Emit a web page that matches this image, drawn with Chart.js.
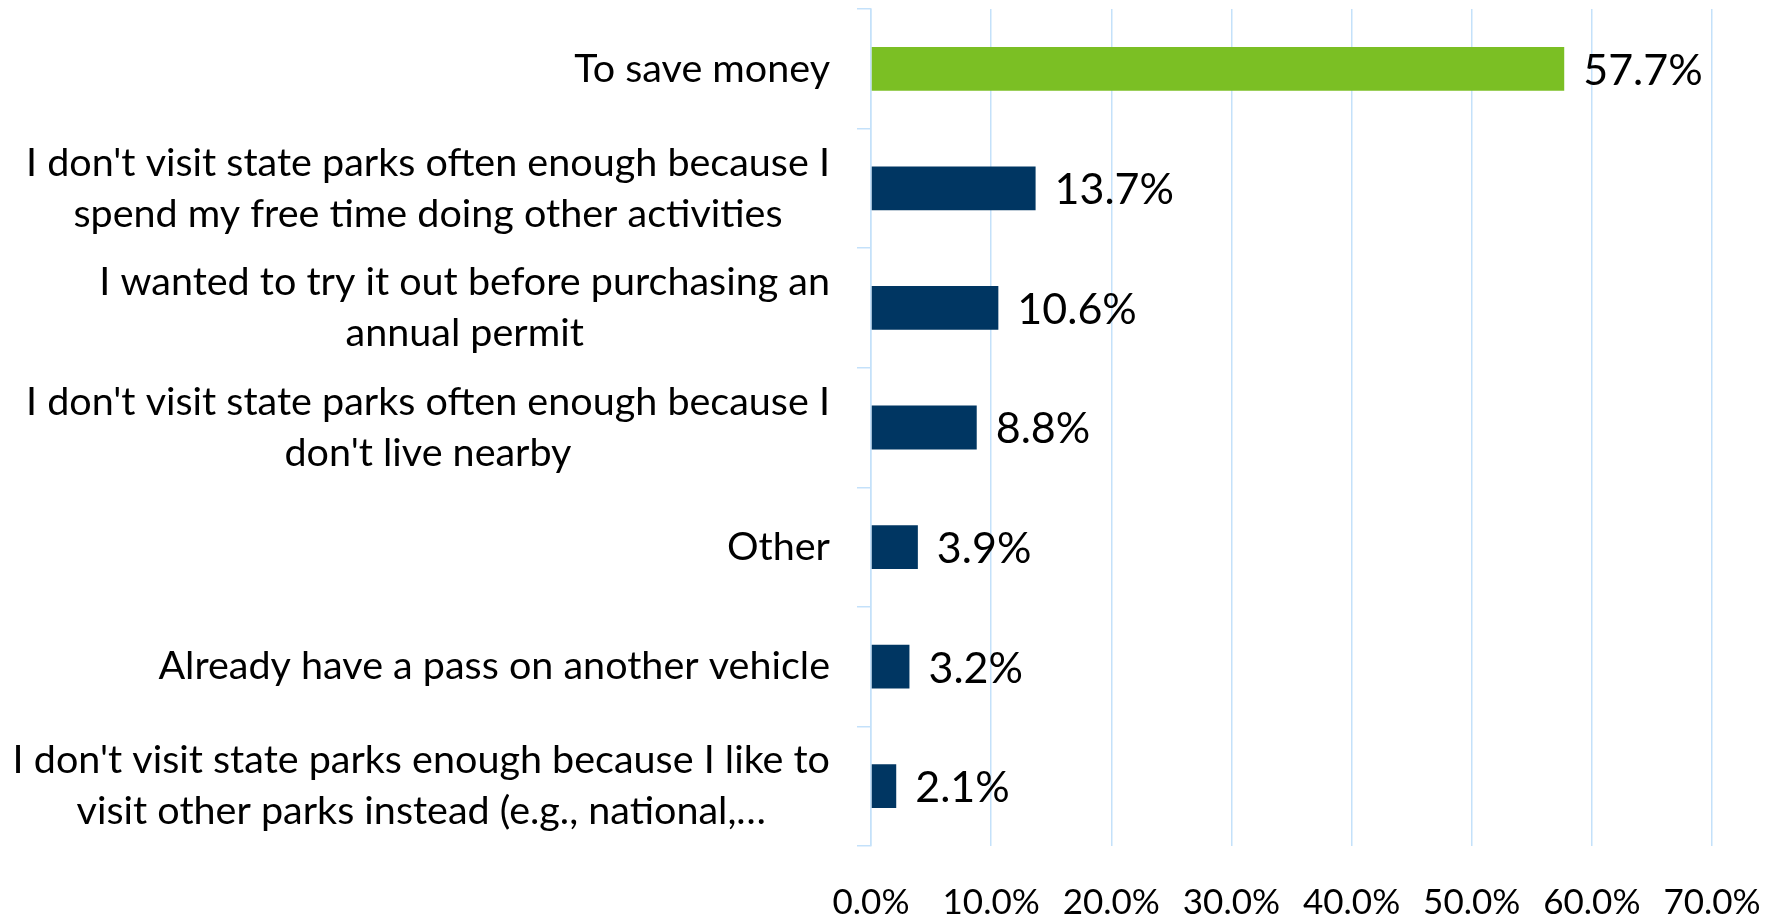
<!DOCTYPE html>
<html>
<head>
<meta charset="utf-8">
<script src="https://cdn.jsdelivr.net/npm/chart.js@4/dist/chart.umd.min.js"></script>
<style>
html,body{margin:0;padding:0;background:#fff;}
#wrap{width:1783px;height:918px;position:relative;}
</style>
</head>
<body>
<div id="wrap"><canvas id="c" width="1783" height="918"></canvas></div>
<script>
const categories = [
  ["To save money"],
  ["I don't visit state parks often enough because I", "spend my free time doing other activities"],
  ["I wanted to try it out before purchasing an", "annual permit"],
  ["I don't visit state parks often enough because I", "don't live nearby"],
  ["Other"],
  ["Already have a pass on another vehicle"],
  ["I don't visit state parks enough because I like to", "visit other parks instead (e.g., national,\u2026"]
];
const values = [57.7, 13.7, 10.6, 8.8, 3.9, 3.2, 2.1];
const barColors = ["#7BBF24", "#003662", "#003662", "#003662", "#003662", "#003662", "#003662"];
const xTicks = [0, 10, 20, 30, 40, 50, 60, 70];

const FONT = "Lato, 'DejaVu Sans', sans-serif";
const lineBlue = "#c4e1fa";
const CAT_FONT_SIZE = 39.5;
const CAT_LINE_H = 51;
const TICK_LEN = 14;
const TICK_PAD = 27;

// Category labels: block right-aligned to the axis, lines centred within the block (as in the original)
const categoryLabelPlugin = {
  id: 'categoryLabels',
  afterDraw(chart) {
    const scale = chart.scales.y;
    const ctx = chart.ctx;
    ctx.save();
    ctx.font = CAT_FONT_SIZE + "px " + FONT;
    ctx.fillStyle = "#000";
    ctx.textAlign = "center";
    ctx.textBaseline = "middle";
    const rightEdge = scale.right - TICK_LEN - TICK_PAD;
    categories.forEach((lines, i) => {
      const yc = scale.getPixelForTick(i);
      const w = Math.max(...lines.map(l => ctx.measureText(l).width));
      const cx = rightEdge - w / 2;
      const y0 = yc - (lines.length - 1) * CAT_LINE_H / 2;
      lines.forEach((l, j) => ctx.fillText(l, cx, y0 + j * CAT_LINE_H));
    });
    ctx.restore();
  }
};

const dataLabelPlugin = {
  id: 'dataLabels',
  afterDatasetsDraw(chart) {
    const ctx = chart.ctx;
    const meta = chart.getDatasetMeta(0);
    ctx.save();
    ctx.font = "43px " + FONT;
    ctx.fillStyle = "#000";
    ctx.textAlign = "left";
    ctx.textBaseline = "middle";
    meta.data.forEach((bar, i) => {
      ctx.fillText(values[i].toFixed(1) + "%", bar.x + 19, bar.y + 2);
    });
    ctx.restore();
  }
};

new Chart(document.getElementById('c'), {
  type: 'bar',
  data: {
    labels: categories,
    datasets: [{
      data: values,
      backgroundColor: barColors,
      borderWidth: 0,
      barPercentage: 0.366,
      categoryPercentage: 1.0
    }]
  },
  options: {
    indexAxis: 'y',
    responsive: false,
    animation: false,
    devicePixelRatio: 1,
    layout: { padding: { top: 9, right: 71, left: 0, bottom: 0 } },
    plugins: { legend: { display: false }, tooltip: { enabled: false } },
    scales: {
      x: {
        min: 0, max: 70,
        afterBuildTicks(scale) { scale.ticks = xTicks.map(v => ({ value: v })); },
        afterFit(scale) { scale.height = 72; scale.paddingLeft = 0; scale.paddingRight = 0; },
        grid: { color: lineBlue, lineWidth: 1.5, drawTicks: false },
        border: { display: false },
        ticks: {
          padding: 36,
          color: "#000",
          font: { family: FONT, size: 35 },
          callback: v => Number(v).toFixed(1) + "%",
          maxRotation: 0, autoSkip: false
        }
      },
      y: {
        afterFit(scale) { scale.width = 871; scale.paddingTop = 0; scale.paddingBottom = 0; },
        grid: { offset: true, drawOnChartArea: false, drawTicks: true, tickLength: TICK_LEN, color: lineBlue, lineWidth: 1.5 },
        border: { display: true, color: lineBlue, width: 1.5 },
        ticks: { display: false }
      }
    }
  },
  plugins: [dataLabelPlugin, categoryLabelPlugin]
});
</script>
</body>
</html>
